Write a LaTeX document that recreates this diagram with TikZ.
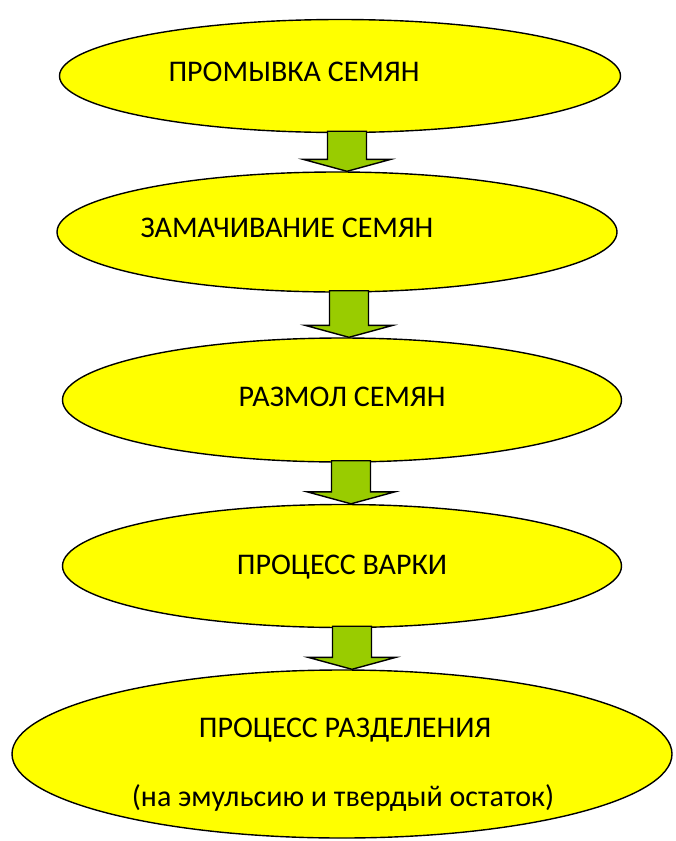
\documentclass[tikz,border=0pt]{standalone}
\usepackage{fontspec}
\setmainfont{Carlito}
\usetikzlibrary{shapes.geometric,calc}
\definecolor{arrowgreen}{HTML}{99CC00}
\definecolor{stageyellow}{HTML}{FFFF00}

\begin{document}
\begin{tikzpicture}[x=1pt,y=-1pt]
	\tikzset{stage/.style={ellipse,draw=black,line width=1.4pt,fill=stageyellow,inner sep=0pt}}
	\tikzset{stagetext/.style={anchor=base,font=\fontsize{30}{36}\selectfont}}
	\tikzset{blockarrow/.style={draw=black,line width=1.4pt,fill=arrowgreen,line join=miter}}

	\useasboundingbox (0,0) rectangle (675,841);

	% stages
	\node[stage,minimum width=561pt,minimum height=113pt] (e1) at (340,76) {};
	\node[stage,minimum width=560pt,minimum height=120pt] (e2) at (337,232) {};
	\node[stage,minimum width=559pt,minimum height=124pt] (e3) at (342,400) {};
	\node[stage,minimum width=559pt,minimum height=123pt] (e4) at (342,566) {};
	\node[stage,minimum width=660pt,minimum height=168pt] (e5) at (342,754) {};

	% texts
	\node[stagetext] (t1) at (294,81) {ПРОМЫВКА СЕМЯН};
	\node[stagetext] (t2) at (287,237) {ЗАМАЧИВАНИЕ СЕМЯН};
	\node[stagetext] (t3) at (342,406) {РАЗМОЛ СЕМЯН};
	\node[stagetext] (t4) at (342,574) {ПРОЦЕСС ВАРКИ};
	\node[stagetext] (t5) at (345,737) {ПРОЦЕСС РАЗДЕЛЕНИЯ};
	\node[stagetext] (t6) at (343,806) {(на эмульсию и твердый остаток)};

	% arrows
	\foreach \a/\b/\c in {e1/e2/347,e2/e3/349,e3/e4/351,e4/e5/352}
		\draw[blockarrow] let \p1=(\a.south), \p2=(\b.north), \p3=(\c,0) in
			(\x3-19.5pt,\y1+2pt) -- (\x3+19.5pt,\y1+2pt) -- (\x3+19.5pt,\y2+12pt)
			-- (\x3+44pt,\y2+12pt) -- (\x3,\y2) -- (\x3-44pt,\y2+12pt)
			-- (\x3-19.5pt,\y2+12pt) -- cycle;
\end{tikzpicture}
\end{document}
